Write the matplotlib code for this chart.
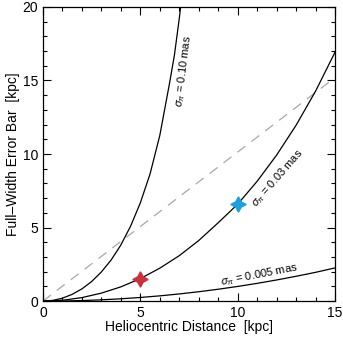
import matplotlib
matplotlib.use('Agg')
import matplotlib.pyplot as plt
from matplotlib.ticker import MultipleLocator

plt.rcParams['font.family'] = ['Liberation Sans', 'DejaVu Sans']
plt.rcParams['mathtext.fontset'] = 'custom'
plt.rcParams['mathtext.rm'] = 'Liberation Sans'
plt.rcParams['mathtext.it'] = 'Liberation Sans:italic'

# curves: distance [kpc] vs full-width error bar [kpc]
d_010 = [0, 0.5, 1, 1.5, 2, 2.5, 3, 3.5, 4, 4.5, 5, 5.5, 6, 6.5, 6.75, 7, 7.1]
w_010 = [0, 0.05, 0.2, 0.46, 0.83, 1.33, 1.98, 2.79, 3.81, 5.09, 6.67, 8.64, 11.25, 14.8, 16.7, 19.2, 20.3]

d_003 = [0, 1, 2, 3, 4, 5, 6, 7, 8, 9, 10, 11, 12, 13, 14, 15]
w_003 = [0, 0.06, 0.24, 0.545, 0.97, 1.53, 2.24, 3.09, 4.12, 5.33, 6.59, 8.15, 9.93, 11.96, 14.28, 16.93]

d_0005 = [0, 1, 2, 3, 4, 5, 6, 7, 8, 9, 10, 11, 12, 13, 14, 15]
w_0005 = [0, 0.01, 0.04, 0.09, 0.16, 0.25, 0.36, 0.49, 0.64, 0.81, 1.0, 1.21, 1.44, 1.69, 1.96, 2.26]

dash_x = [0, 15]
dash_y = [0, 15.2]

star_red = (5, 1.53)
star_blue = (10, 6.59)

fig = plt.figure(figsize=(3.43, 3.43), dpi=100)
ax = fig.add_axes([0.125, 0.122, 0.852, 0.858])

ax.plot(dash_x, dash_y, color='#a8a8a8', lw=0.9, dashes=(8, 6))
ax.plot(d_010, w_010, color='black', lw=0.9)
ax.plot(d_003, w_003, color='black', lw=0.9)
ax.plot(d_0005, w_0005, color='black', lw=0.9)

ax.plot(*star_red, marker=(4, 1, 0), ms=11, color='#c8323c', mec='#c8323c')
ax.plot(*star_blue, marker=(4, 1, 0), ms=11, color='#1ea0dc', mec='#1ea0dc')

fs = 8
ax.text(7.2, 15.6, r'$\sigma_\pi$ = 0.10 mas', rotation=83, fontsize=fs,
        ha='center', va='center')
ax.text(12.05, 8.35, r'$\sigma_\pi$ = 0.03 mas', rotation=49, fontsize=fs,
        ha='center', va='center')
ax.text(11.1, 1.78, r'$\sigma_\pi$ = 0.005 mas', rotation=11, fontsize=fs,
        ha='center', va='center')

ax.set_xlim(0, 15)
ax.set_ylim(0, 20)
ax.xaxis.set_major_locator(MultipleLocator(5))
ax.xaxis.set_minor_locator(MultipleLocator(1))
ax.yaxis.set_major_locator(MultipleLocator(5))
ax.yaxis.set_minor_locator(MultipleLocator(1))
ax.tick_params(which='both', direction='in', top=True, right=True, labelsize=10, width=0.8)
ax.tick_params(which='major', length=6)
ax.tick_params(which='minor', length=3)
for s in ax.spines.values():
    s.set_linewidth(0.9)

ax.set_xlabel('Heliocentric Distance  [kpc]', fontsize=10, labelpad=0)
ax.set_ylabel('Full\u2013Width Error Bar  [kpc]', fontsize=10, labelpad=2)

fig.savefig('out.png', dpi=100)
